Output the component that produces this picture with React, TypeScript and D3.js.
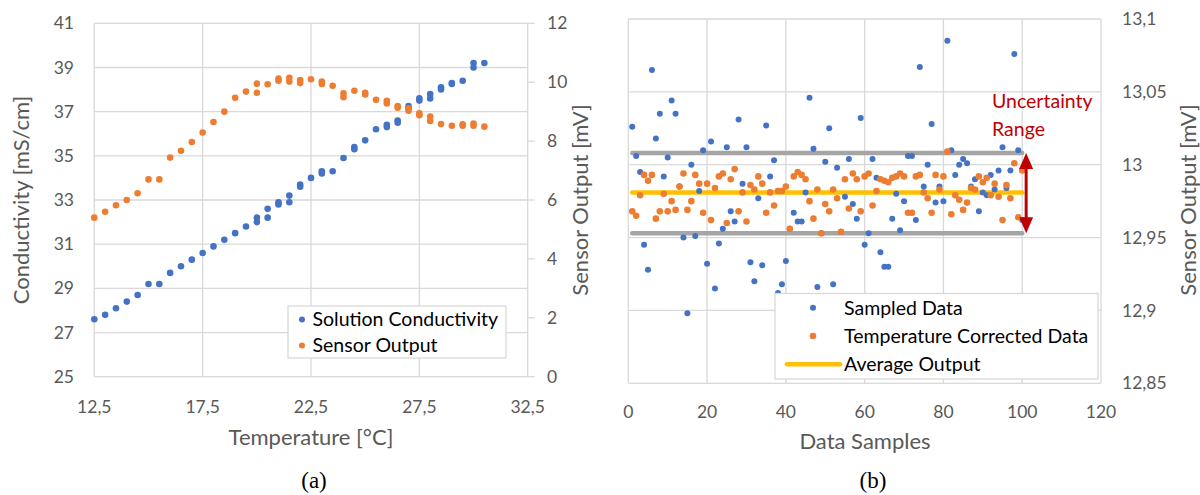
import React from "react";
import * as d3 from "d3";

// ---------- Chart (a) data ----------
const condTemps = [12.5, 13, 13.5, 14, 14.5, 15, 15.5, 16, 16.5, 17, 17.5, 18, 18.5, 19, 19.5, 20, 20, 20.5, 20.5, 21, 21, 21.5, 21.5, 22, 22, 22.5, 23, 23, 23.5, 24, 24.5, 24.5, 25, 25.5, 26, 26, 26.5, 26.5, 27, 27, 27.5, 27.5, 28, 28, 28.5, 28.5, 29, 29, 29.5, 30, 30, 30.5];
const condValues = [27.6, 27.8, 28.1, 28.4, 28.7, 29.2, 29.2, 29.7, 30.0, 30.3, 30.6, 30.9, 31.2, 31.5, 31.8, 32.2, 32.0, 32.6, 32.2, 32.9, 32.8, 33.2, 32.9, 33.7, 33.6, 34.0, 34.3, 34.2, 34.3, 34.9, 35.4, 35.3, 35.7, 36.2, 36.4, 36.3, 36.6, 36.5, 37.25, 37.15, 37.6, 37.5, 37.8, 37.6, 38.1, 38.0, 38.3, 38.25, 38.4, 39.2, 39.0, 39.2];
const sensorTemps = [12.5, 13, 13.5, 14, 14.5, 15, 15.5, 16, 16.5, 17, 17.5, 18, 18.5, 19, 19.5, 20, 20, 20.5, 21, 21, 21.5, 21.5, 22, 22, 22.5, 23, 23, 23.5, 24, 24, 24.5, 25, 25, 25.5, 26, 26, 26.5, 26.5, 27, 27, 27.5, 27.5, 28, 28, 28.5, 29, 29.5, 29.5, 30, 30, 30.5];
const sensorValues = [5.4, 5.6, 5.82, 6.0, 6.23, 6.7, 6.7, 7.44, 7.67, 7.97, 8.29, 8.65, 9.0, 9.47, 9.68, 9.95, 9.64, 9.93, 10.12, 10.05, 10.15, 10.02, 10.07, 9.97, 10.1, 10.02, 9.94, 9.88, 9.62, 9.49, 9.71, 9.64, 9.58, 9.4, 9.37, 9.28, 9.19, 9.13, 9.11, 9.03, 8.94, 8.88, 8.83, 8.68, 8.58, 8.52, 8.57, 8.52, 8.6, 8.52, 8.49];
const tempTicks = [12.5, 17.5, 22.5, 27.5, 32.5];
const condTicks = [25, 27, 29, 31, 33, 35, 37, 39, 41];
const sensorTicks = [0, 2, 4, 6, 8, 10, 12];

// ---------- Chart (b) data ----------
const sampledData = [
  13.026, 13.006, 12.995, 12.945, 12.928, 13.065, 13.018, 13.035, 12.992, 13.005,
  13.044, 13.035, 12.985, 12.95, 12.898, 13.0, 12.951, 12.982, 13.01, 12.932,
  13.016, 12.915, 12.946, 12.956, 13.012, 12.968, 12.961, 13.031, 12.987, 13.012,
  12.933, 12.92, 12.977, 12.931, 13.027, 12.992, 13.003, 12.912, 12.918, 12.934,
  12.956, 12.967, 12.961, 12.961, 12.981, 13.046, 13.011, 12.916, 12.953, 13.002,
  13.025, 12.918, 12.998, 12.954, 12.978, 13.004, 12.973, 12.963, 13.032, 12.945,
  12.953, 13.004, 12.991, 12.94, 12.93, 12.93, 12.963, 12.98, 12.955, 12.975,
  13.006, 13.006, 12.962, 13.067, 12.985, 13.0, 13.028, 12.974, 12.985, 12.975,
  13.085, 13.01, 12.993, 13.0, 13.004, 13.001, 12.985, 12.99, 12.968, 12.981,
  12.979, 12.993, 12.983, 12.996, 13.012, 12.984, 12.996, 13.076, 13.01, 12.962,
];
const correctedData = [
  12.968, 12.965, 12.979, 12.993, 12.989, 12.993, 12.963, 12.968, 12.98, 12.968,
  12.975, 12.969, 12.985, 12.994, 12.969, 12.975, 12.993, 12.987, 12.967, 12.987,
  12.962, 12.984, 12.992, 12.994, 12.96, 12.99, 12.997, 12.968, 12.981, 12.961,
  12.986, 12.983, 12.992, 12.987, 12.967, 12.981, 12.972, 12.982, 12.982, 12.985,
  12.956, 12.992, 12.995, 12.993, 12.99, 12.975, 12.963, 12.983, 12.953, 12.973,
  12.968, 12.983, 12.977, 12.954, 12.99, 12.97, 12.994, 12.99, 12.968, 12.992,
  12.994, 12.972, 12.982, 12.99, 12.989, 12.988, 12.991, 12.992, 12.994, 12.992,
  12.967, 12.967, 12.992, 12.993, 12.981, 12.977, 12.967, 12.993, 12.983, 12.992,
  13.009, 12.966, 12.979, 12.976, 12.969, 12.974, 12.984, 12.983, 12.992, 12.988,
  12.991, 12.979, 12.987, 12.978, 12.962, 12.986, 12.977, 13.001, 12.964, 12.996,
];
const averageOutput = 12.981;
const uncertaintyUpper = 13.008;
const uncertaintyLower = 12.953;
const sampleTicks = [0, 20, 40, 60, 80, 100, 120];
const outputTicks = [12.85, 12.9, 12.95, 13, 13.05, 13.1];

const BLUE = "#4472C4";
const ORANGE = "#ED7D31";
const YELLOW = "#FFC000";
const GRAYLINE = "#A5A5A5";
const DARKRED = "#C00000";
const GRID = "#D9D9D9";
const TXT = "#595959";
const FONT = "Lato, 'Open Sans', sans-serif";
const SERIF = "'Liberation Serif', serif";

const loc = d3.formatLocale({ decimal: ",", thousands: ".", grouping: [3], currency: ["", ""] });
const fmt = loc.format(".2~f");

export default function App() {
  // chart (a)
  const xA = d3.scaleLinear().domain([12.5, 32.5]).range([94.3, 527.7]);
  const yA = d3.scaleLinear().domain([25, 41]).range([376.7, 23.3]);
  const yA2 = d3.scaleLinear().domain([0, 12]).range([376.7, 23.3]);
  // chart (b)
  const xB = d3.scaleLinear().domain([0, 120]).range([628.3, 1101]);
  const yB = d3.scaleLinear().domain([12.85, 13.1]).range([383.3, 19]);

  const firstN = 1;
  const lastN = sampledData.length;
  const hLine = (v: number) =>
    d3.line<number>().x((d) => xB(d)).y(() => yB(v))([firstN, lastN]) as string;

  const arrowX = xB(lastN + 1);
  const aTop = yB(uncertaintyUpper);
  const aBot = yB(uncertaintyLower);

  const tickFS = 17.5;
  const titleFS = 22;
  const legFS = 19.5;
  return (
    <svg width={1200} height={495} style={{ position: "absolute", left: 0, top: 0, background: "#fff" }} fontFamily={FONT}>
      <rect x={0} y={0} width={1200} height={495} fill="#fff" />
      {/* ===== Chart (a) ===== */}
      <g>
        {condTicks.map((t) => (
          <line key={"ga" + t} x1={xA(12.5)} x2={xA(32.5)} y1={yA(t)} y2={yA(t)} stroke={GRID} strokeWidth={1.3} />
        ))}
        {tempTicks.map((t) => (
          <line key={"gx" + t} x1={xA(t)} x2={xA(t)} y1={yA(25)} y2={yA(41)} stroke={GRID} strokeWidth={1.3} />
        ))}
        {sensorTicks.map((t) => (
          <line key={"st" + t} x1={xA(32.5)} x2={xA(32.5) + 7} y1={yA2(t)} y2={yA2(t)} stroke={GRID} strokeWidth={1.3} />
        ))}
        {condTicks.map((t) => (
          <text key={"la" + t} x={74} y={yA(t)} dy="0.35em" textAnchor="end" fontSize={tickFS} fill={TXT}>{fmt(t)}</text>
        ))}
        {sensorTicks.map((t) => (
          <text key={"ra" + t} x={547} y={yA2(t)} dy="0.35em" textAnchor="start" fontSize={tickFS} fill={TXT}>{fmt(t)}</text>
        ))}
        {tempTicks.map((t) => (
          <text key={"xa" + t} x={xA(t)} y={407} dy="0.35em" textAnchor="middle" fontSize={tickFS} fill={TXT}>{fmt(t)}</text>
        ))}
        <text x={311} y={437} dy="0.35em" textAnchor="middle" fontSize={titleFS} fill={TXT}>Temperature [°C]</text>
        <text transform={`translate(21,200) rotate(-90)`} dy="0.35em" textAnchor="middle" fontSize={titleFS} fill={TXT}>Conductivity [mS/cm]</text>
        <text transform={`translate(580,200) rotate(-90)`} dy="0.35em" textAnchor="middle" fontSize={titleFS} fill={TXT}>Sensor Output [mV]</text>
        {condValues.map((v, i) => (
          <circle key={"c" + i} cx={xA(condTemps[i])} cy={yA(v)} r={3.3} fill={BLUE} />
        ))}
        {sensorValues.map((v, i) => (
          <circle key={"s" + i} cx={xA(sensorTemps[i])} cy={yA2(v)} r={3.3} fill={ORANGE} />
        ))}
        {/* legend */}
        <rect x={288} y={306} width={218} height={52} fill="#fff" stroke={GRID} strokeWidth={1.3} />
        <circle cx={302} cy={319.5} r={3} fill={BLUE} />
        <text x={312.5} y={319.5} dy="0.35em" fontSize={legFS} fill="#000">Solution Conductivity</text>
        <circle cx={302} cy={345.5} r={3} fill={ORANGE} />
        <text x={312.5} y={345.5} dy="0.35em" fontSize={legFS} fill="#000">Sensor Output</text>
        <text x={314} y={480} dy="0.35em" textAnchor="middle" fontSize={23} fontFamily={SERIF} fill="#000">(a)</text>
      </g>

      {/* ===== Chart (b) ===== */}
      <g>
        {outputTicks.map((t) => (
          <line key={"gb" + t} x1={xB(0)} x2={xB(120)} y1={yB(t)} y2={yB(t)} stroke={GRID} strokeWidth={1.3} />
        ))}
        {sampleTicks.map((t) => (
          <line key={"gbx" + t} x1={xB(t)} x2={xB(t)} y1={yB(12.85)} y2={yB(13.1)} stroke={GRID} strokeWidth={1.3} />
        ))}
        {outputTicks.map((t) => (
          <text key={"lb" + t} x={1122} y={yB(t)} dy="0.35em" textAnchor="start" fontSize={tickFS} fill={TXT}>{fmt(t)}</text>
        ))}
        {sampleTicks.map((t) => (
          <text key={"xb" + t} x={xB(t)} y={412} dy="0.35em" textAnchor="middle" fontSize={tickFS} fill={TXT}>{fmt(t)}</text>
        ))}
        <text x={865} y={441} dy="0.35em" textAnchor="middle" fontSize={titleFS} fill={TXT}>Data Samples</text>
        <text transform={`translate(1188,200) rotate(-90)`} dy="0.35em" textAnchor="middle" fontSize={titleFS} fill={TXT}>Sensor Output [mV]</text>

        <path d={hLine(uncertaintyUpper)} stroke={GRAYLINE} strokeWidth={4.5} strokeLinecap="round" fill="none" />
        <path d={hLine(uncertaintyLower)} stroke={GRAYLINE} strokeWidth={4.5} strokeLinecap="round" fill="none" />
        <path d={hLine(averageOutput)} stroke={YELLOW} strokeWidth={4.5} strokeLinecap="round" fill="none" />

        {sampledData.map((v, i) => (
          <circle key={"b" + i} cx={xB(i + 1)} cy={yB(v)} r={3} fill={BLUE} />
        ))}
        {correctedData.map((v, i) => (
          <circle key={"o" + i} cx={xB(i + 1)} cy={yB(v)} r={3.3} fill={ORANGE} />
        ))}

        {/* uncertainty arrow */}
        <line x1={arrowX} x2={arrowX} y1={aTop + 14} y2={aBot - 14} stroke={DARKRED} strokeWidth={3} />
        <path d={`M${arrowX},${aTop} L${arrowX - 7},${aTop + 16} L${arrowX + 7},${aTop + 16} Z`} fill={DARKRED} />
        <path d={`M${arrowX},${aBot} L${arrowX - 7},${aBot - 16} L${arrowX + 7},${aBot - 16} Z`} fill={DARKRED} />
        <text x={992} y={108} fontSize={19.5} fill={DARKRED}>Uncertainty</text>
        <text x={992} y={136} fontSize={19.5} fill={DARKRED}>Range</text>

        {/* legend */}
        <rect x={775} y={293.5} width={323} height={85.5} fill="#fff" stroke={GRID} strokeWidth={1.3} />
        <circle cx={813} cy={307.7} r={3} fill={BLUE} />
        <text x={844} y={307.7} dy="0.35em" fontSize={legFS} fill="#000">Sampled Data</text>
        <circle cx={813} cy={336} r={3.3} fill={ORANGE} />
        <text x={844} y={336} dy="0.35em" fontSize={legFS} fill="#000">Temperature Corrected Data</text>
        <line x1={787} x2={840} y1={364.3} y2={364.3} stroke={YELLOW} strokeWidth={4.5} strokeLinecap="round" />
        <text x={844} y={364.3} dy="0.35em" fontSize={legFS} fill="#000">Average Output</text>
        <text x={873} y={480} dy="0.35em" textAnchor="middle" fontSize={23} fontFamily={SERIF} fill="#000">(b)</text>
      </g>
    </svg>
  );
}
